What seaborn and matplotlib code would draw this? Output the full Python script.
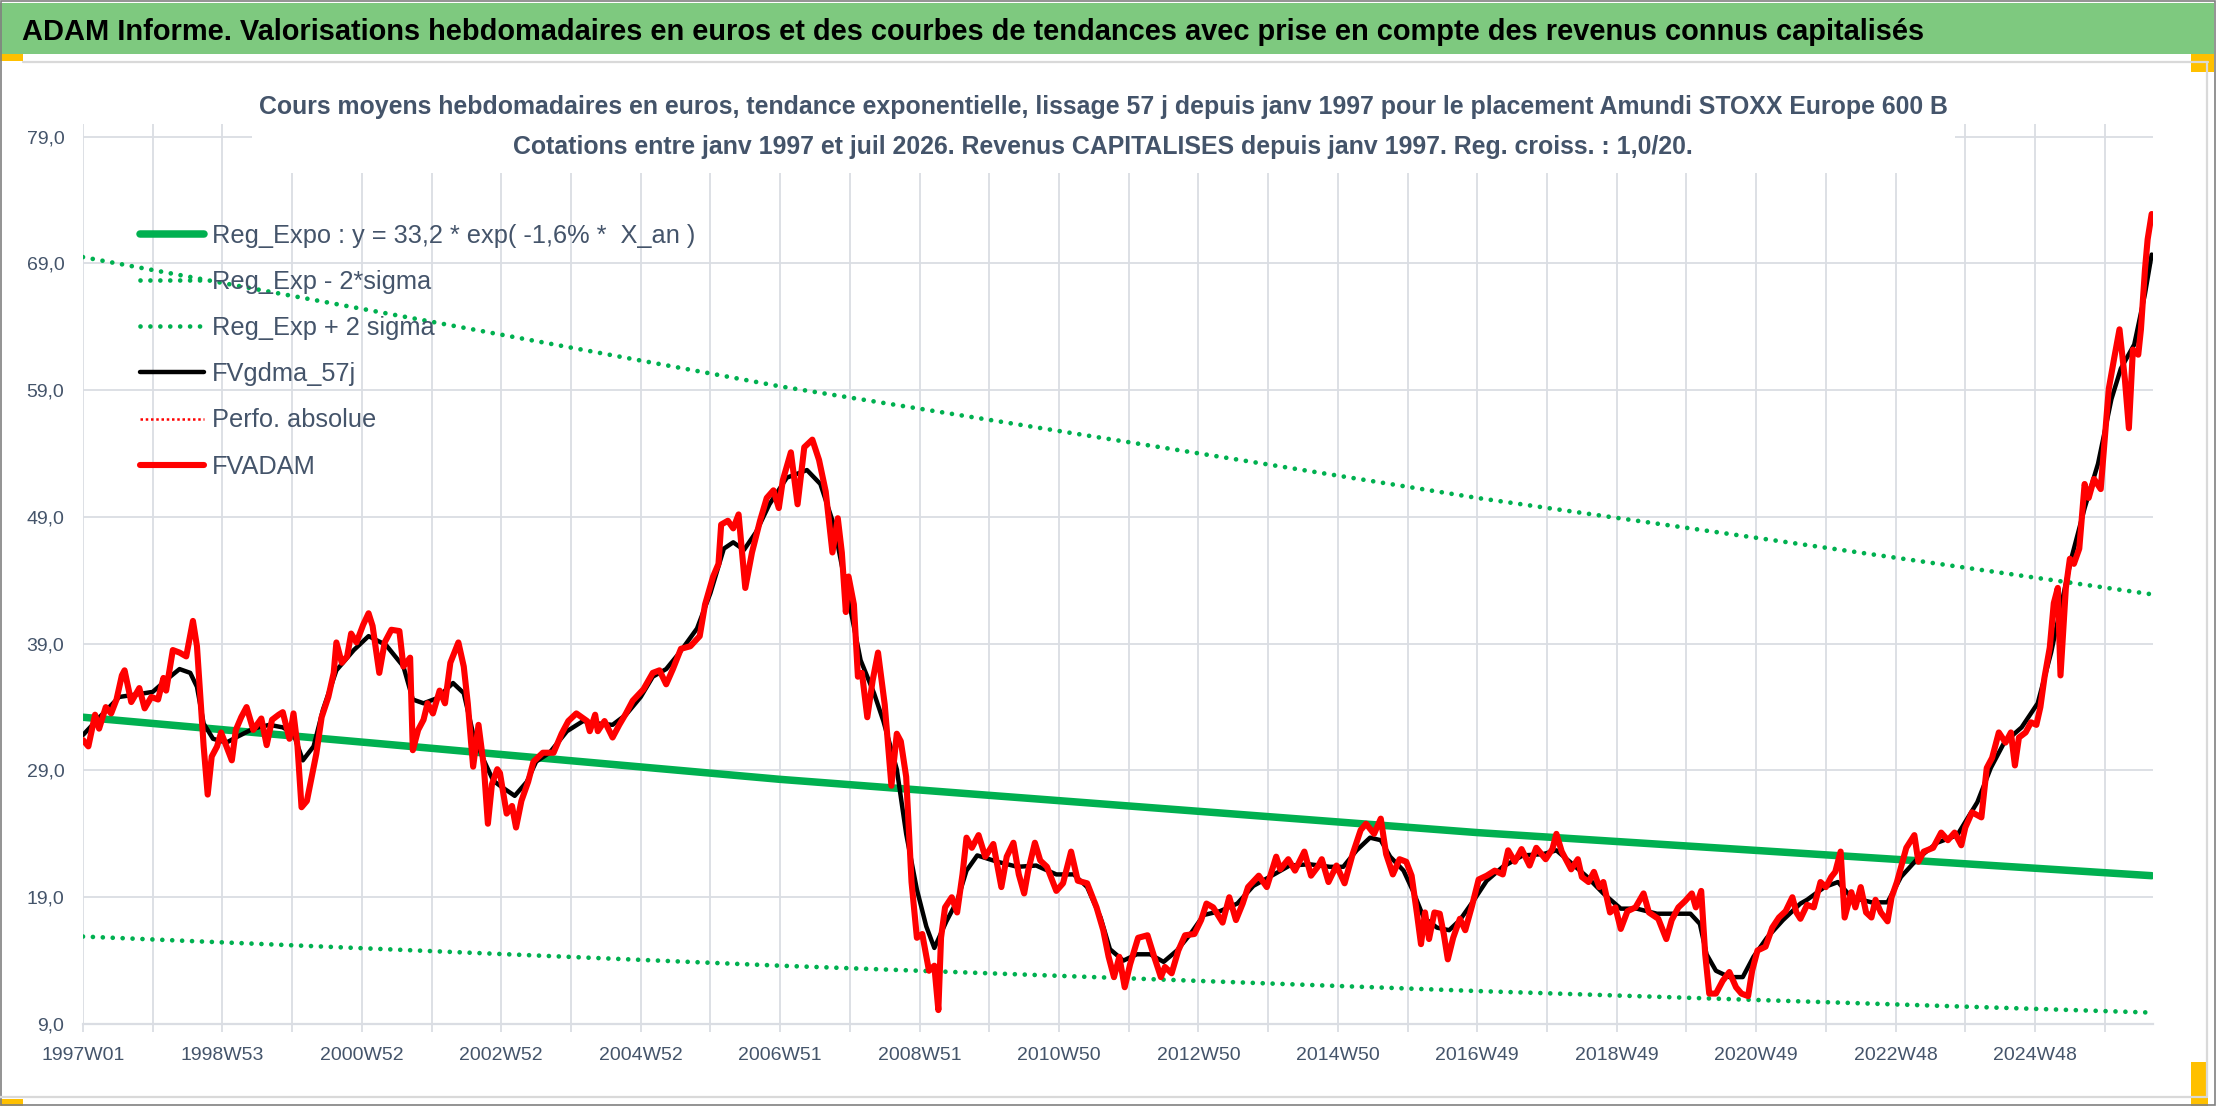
import matplotlib
matplotlib.use("Agg")
import matplotlib.pyplot as plt
import numpy as np
import seaborn as sns
from matplotlib.patches import Rectangle

W, H = 2216, 1106

# axis categories: weeks counted from 1997W01
xtick_labels = ["1997W01", "1998W53", "2000W52", "2002W52", "2004W52", "2006W51", "2008W51",
                "2010W50", "2012W50", "2014W50", "2016W49", "2018W49", "2020W49", "2022W48", "2024W48"]
yticks = [9, 19, 29, 39, 49, 59, 69, 79]

# regression curves (read at a few weeks)
reg_weeks = [0, 520, 1040, 1543]
reg_expo = [33.2, 28.3, 24.1, 20.7]
reg_minus = [15.9, 13.6, 11.6, 9.9]
reg_plus = [69.5, 59.3, 50.5, 42.9]

# FVgdma_57j (smoothed)
gdma_weeks = [0, 15, 27, 40, 52, 65, 72, 80, 85, 90, 97, 107, 114, 127, 139, 149, 157, 164, 172, 179,
              189, 202, 213, 226, 239, 246, 254, 264, 276, 284, 291, 299, 306, 311, 322, 331, 338, 348,
              361, 373, 385, 395, 405, 416, 425, 435, 445, 458, 468, 478, 485, 493, 502, 512, 525, 540,
              550, 560, 570, 580, 590, 597, 607, 614, 622, 629, 635, 644, 652, 659, 667, 682, 697, 711,
              726, 739, 749, 759, 766, 776, 786, 796, 806, 816, 826, 836, 848, 861, 873, 885, 900, 915,
              930, 940, 950, 960, 968, 975, 985, 992, 1000, 1010, 1019, 1027, 1037, 1047, 1059, 1074,
              1089, 1099, 1109, 1122, 1134, 1147, 1159, 1174, 1186, 1199, 1206, 1211, 1218, 1228, 1238,
              1246, 1256, 1268, 1281, 1286, 1299, 1309, 1319, 1334, 1346, 1356, 1368, 1383, 1398, 1413,
              1423, 1433, 1446, 1458, 1468, 1475, 1483, 1493, 1503, 1513, 1520, 1530, 1538, 1543]
gdma_values = [31.8, 33.5, 34.8, 35.0, 35.2, 36.4, 37.0, 36.7, 35.6, 32.7, 31.5, 31.2, 31.6, 32.3, 32.6,
               32.4, 31.9, 29.8, 30.9, 33.8, 36.9, 38.5, 39.6, 38.9, 37.2, 34.6, 34.3, 34.7, 35.9, 35.1,
               31.9, 29.8, 28.2, 27.8, 27.0, 28.1, 29.7, 30.4, 32.1, 32.9, 32.7, 32.6, 33.4, 34.8, 36.4,
               37.0, 38.3, 40.2, 43.0, 46.5, 47.0, 46.4, 47.8, 50.0, 52.1, 52.7, 51.6, 48.4, 43.0, 37.7,
               35.1, 32.9, 29.1, 24.0, 19.6, 16.7, 15.0, 17.1, 18.7, 21.1, 22.3, 21.8, 21.4, 21.5, 20.8,
               20.8, 19.8, 17.4, 14.9, 14.0, 14.5, 14.5, 13.9, 14.8, 16.1, 17.6, 17.9, 18.5, 19.9, 20.6,
               21.5, 21.6, 21.4, 21.4, 22.7, 23.7, 23.5, 22.2, 21.1, 19.5, 17.4, 16.6, 16.4, 17.2, 18.7,
               20.3, 21.4, 22.3, 22.4, 22.7, 21.8, 20.6, 19.3, 18.1, 18.1, 17.7, 17.7, 17.7, 16.9, 14.5,
               13.2, 12.7, 12.7, 14.3, 15.8, 17.2, 18.5, 18.8, 19.8, 20.2, 19.0, 18.6, 18.6, 20.6, 22.0,
               23.3, 23.9, 26.5, 29.2, 31.2, 32.4, 34.3, 38.3, 41.8, 45.7, 49.7, 53.2, 58.3, 60.7, 62.6,
               66.6, 69.7]

# Perfo. absolue: no visible points on the chart
perfo_weeks = []
perfo_values = []

# FVADAM weekly values
adam_weeks = [0, 4, 9, 12, 17, 21, 25, 29, 31, 36, 42, 46, 51, 56, 60, 62, 67, 72, 77, 82, 85, 88, 90,
              93, 96, 100, 103, 107, 111, 114, 118, 122, 127, 133, 137, 141, 146, 149, 154, 157, 160,
              163, 167, 170, 174, 178, 183, 187, 189, 193, 197, 200, 204, 209, 213, 216, 221, 225, 230,
              236, 239, 244, 246, 250, 254, 257, 261, 266, 270, 274, 280, 284, 287, 291, 295, 299, 302,
              305, 309, 311, 316, 320, 323, 327, 332, 336, 343, 351, 357, 362, 368, 376, 378, 382, 384,
              389, 395, 400, 405, 410, 418, 425, 430, 435, 440, 446, 453, 460, 464, 470, 474, 476, 481,
              485, 489, 494, 499, 505, 510, 515, 519, 522, 528, 533, 538, 544, 549, 554, 559, 563, 566,
              569, 571, 575, 578, 581, 585, 589, 593, 598, 603, 607, 610, 614, 618, 622, 626, 631, 635,
              638, 640, 643, 648, 652, 656, 659, 663, 668, 673, 679, 685, 689, 694, 698, 702, 705, 710,
              714, 719, 726, 731, 737, 742, 749, 756, 761, 765, 769, 773, 777, 781, 787, 794, 799, 804,
              807, 812, 817, 822, 829, 834, 838, 843, 850, 855, 860, 865, 869, 877, 883, 890, 893, 899,
              904, 911, 916, 921, 924, 929, 935, 941, 947, 953, 957, 963, 968, 972, 977, 982, 987, 991,
              995, 998, 1001, 1004, 1008, 1012, 1015, 1018, 1022, 1027, 1031, 1036, 1041, 1047, 1053,
              1059, 1063, 1068, 1073, 1079, 1084, 1091, 1096, 1099, 1103, 1110, 1115, 1118, 1123, 1127,
              1131, 1134, 1139, 1143, 1147, 1152, 1158, 1164, 1168, 1175, 1181, 1185, 1190, 1195, 1200,
              1203, 1207, 1210, 1213, 1218, 1223, 1228, 1233, 1237, 1242, 1245, 1249, 1255, 1260, 1265,
              1270, 1275, 1278, 1281, 1286, 1291, 1296, 1300, 1304, 1307, 1311, 1314, 1319, 1322, 1326,
              1330, 1334, 1337, 1341, 1346, 1349, 1353, 1360, 1366, 1369, 1373, 1380, 1386, 1391, 1396,
              1401, 1404, 1409, 1416, 1420, 1424, 1429, 1434, 1438, 1441, 1444, 1449, 1453, 1457, 1460,
              1463, 1467, 1470, 1473, 1475, 1479, 1482, 1485, 1489, 1493, 1496, 1500, 1505, 1508, 1511,
              1515, 1519, 1523, 1526, 1529, 1533, 1535, 1538, 1540, 1543]
adam_values = [31.4, 30.9, 33.4, 32.3, 34.0, 33.5, 34.6, 36.5, 36.9, 34.4, 35.5, 33.9, 34.8, 34.6, 36.3,
               35.3, 38.5, 38.3, 38.0, 40.8, 38.8, 34.0, 30.9, 27.1, 30.1, 30.9, 32.0, 30.9, 29.8, 32.2,
               33.2, 34.0, 32.2, 33.1, 31.0, 33.0, 33.4, 33.6, 31.5, 33.5, 30.9, 26.1, 26.6, 28.2, 30.3,
               33.2, 34.8, 36.7, 39.1, 37.5, 38.0, 39.8, 39.1, 40.5, 41.4, 40.4, 36.7, 39.1, 40.1, 40.0,
               37.2, 37.9, 30.6, 32.2, 33.0, 34.3, 33.5, 35.3, 34.3, 37.5, 39.1, 37.2, 34.3, 29.3, 32.6,
               29.3, 24.8, 27.9, 29.1, 28.8, 25.6, 26.2, 24.5, 26.6, 28.1, 29.7, 30.4, 30.4, 31.9, 32.9,
               33.5, 32.9, 32.1, 33.4, 32.1, 32.9, 31.6, 32.6, 33.5, 34.5, 35.4, 36.7, 36.9, 35.8, 37.0,
               38.6, 38.8, 39.6, 42.1, 44.3, 45.3, 48.4, 48.7, 48.1, 49.2, 43.4, 46.2, 48.7, 50.5, 51.1,
               49.7, 51.9, 54.1, 50.0, 54.5, 55.1, 53.5, 51.0, 46.2, 48.9, 46.2, 41.5, 44.3, 42.1, 36.4,
               36.7, 33.2, 36.1, 38.3, 34.2, 27.8, 31.9, 31.3, 28.5, 20.2, 15.8, 16.1, 13.2, 13.6, 10.1,
               15.8, 18.2, 19.0, 17.8, 20.8, 23.7, 22.9, 23.9, 22.2, 23.2, 19.8, 22.2, 23.3, 20.8, 19.3,
               21.1, 23.3, 21.9, 21.4, 19.5, 20.1, 22.6, 20.3, 20.1, 18.2, 16.4, 14.3, 12.7, 14.3, 11.9,
               13.7, 15.8, 16.0, 14.3, 12.7, 13.5, 13.0, 14.8, 16.0, 16.1, 17.2, 18.5, 18.2, 17.0, 19.0,
               17.2, 18.5, 19.8, 20.7, 19.8, 22.2, 21.2, 22.0, 21.1, 22.6, 20.7, 21.4, 22.0, 20.2, 21.5,
               20.1, 22.4, 24.3, 24.8, 24.0, 25.2, 22.4, 20.8, 22.0, 21.8, 20.7, 17.7, 15.3, 17.8, 15.7,
               17.8, 17.7, 16.1, 14.1, 15.8, 17.3, 16.4, 18.3, 20.4, 20.7, 21.1, 20.8, 22.7, 21.8, 22.8,
               21.5, 22.9, 22.0, 22.8, 24.0, 22.6, 21.2, 22.0, 20.6, 20.2, 21.0, 19.8, 20.2, 17.8, 18.2,
               16.5, 17.9, 18.2, 19.3, 17.8, 17.3, 15.7, 17.2, 18.2, 18.7, 19.3, 18.2, 19.5, 14.5, 11.4,
               11.4, 12.4, 13.1, 11.9, 11.4, 11.2, 13.2, 14.8, 15.1, 16.6, 17.4, 17.9, 19.0, 17.8, 17.3,
               18.4, 18.2, 20.2, 19.8, 20.6, 21.0, 22.6, 17.4, 19.4, 18.2, 19.8, 17.8, 17.4, 18.8, 17.8,
               17.1, 19.0, 20.2, 22.9, 23.9, 21.8, 22.6, 22.9, 24.1, 23.5, 24.1, 23.1, 24.5, 25.7, 25.3,
               29.2, 30.0, 32.0, 31.2, 32.0, 29.4, 31.6, 32.0, 32.8, 32.6, 34.0, 36.3, 38.7, 42.2, 43.4,
               36.5, 43.4, 45.7, 45.3, 46.5, 51.6, 50.5, 52.0, 51.2, 55.2, 59.1, 61.5, 63.8, 59.9, 56.0,
               62.2, 61.8, 63.8, 68.5, 70.9, 72.9]

TITLE = ("ADAM Informe. Valorisations hebdomadaires en euros et des courbes de tendances "
         "avec prise en compte des revenus connus capitalisés")
SUB1 = ("Cours moyens hebdomadaires en euros, tendance exponentielle, lissage 57 j depuis janv 1997 "
        "pour le placement Amundi STOXX Europe 600 B")
SUB2 = "Cotations entre janv 1997 et juil 2026. Revenus CAPITALISES depuis janv 1997. Reg. croiss. : 1,0/20."

GREEN = "#00B050"
GRID = "#DADDE3"
TXT = "#44546A"

sns.set_theme(style="white")
plt.rcParams["font.family"] = ["Liberation Sans", "DejaVu Sans"]

fig = plt.figure(figsize=(W / 100, H / 100), dpi=100)
fig.patch.set_facecolor("white")

ax = fig.add_axes([83 / W, 1 - 1024 / H, (2153 - 83) / W, (1024 - 124) / H])
ax.set_facecolor("white")

dots = (0, (0.001, 2.1))
sns.lineplot(x=reg_weeks, y=reg_expo, ax=ax, color=GREEN, lw=5.4, solid_capstyle="round",
             label="Reg_Expo : y = 33,2 * exp( -1,6% *  X_an )")
sns.lineplot(x=reg_weeks, y=reg_minus, ax=ax, color=GREEN, lw=3.4, linestyle=dots,
             dash_capstyle="round", label="Reg_Exp - 2*sigma")
sns.lineplot(x=reg_weeks, y=reg_plus, ax=ax, color=GREEN, lw=3.4, linestyle=dots,
             dash_capstyle="round", label="Reg_Exp + 2 sigma")
sns.lineplot(x=gdma_weeks, y=gdma_values, ax=ax, color="black", lw=3.2, sort=False,
             solid_capstyle="round", solid_joinstyle="round", label="FVgdma_57j")
ax.plot(perfo_weeks, perfo_values, color="red", lw=1.8, linestyle=(0, (1, 1.1)), label="Perfo. absolue")
sns.lineplot(x=adam_weeks, y=adam_values, ax=ax, color="red", lw=4.4, sort=False,
             solid_capstyle="round", solid_joinstyle="round", label="FVADAM")

ax.set_xlim(0, 1544)
ax.set_ylim(9, 80)
ax.set_xticks(np.arange(0, 104 * len(xtick_labels), 104))
ax.set_xticklabels(xtick_labels)
ax.set_xticks(np.arange(52, 1544, 104), minor=True)
ax.set_yticks(yticks)
ax.set_yticklabels([f"{v:.1f}".replace(".", ",") for v in yticks])
ax.set_xlabel("")
ax.set_ylabel("")

ax.grid(True, which="both", axis="x", color=GRID, lw=1.3)
ax.grid(True, which="major", axis="y", color=GRID, lw=1.3)
ax.set_axisbelow(True)
for side in ["top", "right", "left"]:
    ax.spines[side].set_visible(False)
ax.spines["bottom"].set_color(GRID)
ax.spines["bottom"].set_linewidth(1.6)

ax.tick_params(axis="x", which="both", direction="out", length=5.8, width=1.3, color=GRID,
               labelsize=14, labelcolor=TXT, pad=10.5, bottom=True)
ax.tick_params(axis="y", length=0, labelsize=14, labelcolor=TXT, pad=13.5)

leg = ax.legend(loc="upper left", bbox_to_anchor=(140 / W, 1 - 224 / H), bbox_transform=fig.transFigure,
                frameon=False, fontsize=18.3, labelspacing=0.87, handlelength=2.5, handletextpad=0.32,
                borderpad=0, borderaxespad=0)
for t in leg.get_texts():
    t.set_color(TXT)

# overlay in pixel units for the sheet frame, the banner and the chart title box
ov = fig.add_axes([0, 0, 1, 1], zorder=5)
ov.set_xlim(0, W)
ov.set_ylim(H, 0)
ov.axis("off")
ov.patch.set_alpha(0)

ov.add_patch(Rectangle((0, 3), 2214, 51, color="#7EC97F", lw=0))
ov.plot([23, 2208], [62, 62], color="#D9D9D9", lw=1.6)
ov.plot([2207, 2207], [62, 1097], color="#D9D9D9", lw=1.6)
ov.plot([0, 2207], [1097, 1097], color="#D9D9D9", lw=1.6)
ov.add_patch(Rectangle((0, 54), 23, 7, color="#FFC000", lw=0))
ov.add_patch(Rectangle((2191, 54), 23, 18, color="#FFC000", lw=0))
ov.add_patch(Rectangle((2191, 1062), 17, 44, color="#FFC000", lw=0))
ov.add_patch(Rectangle((0, 1099), 23, 7, color="#FFC000", lw=0))
ov.add_patch(Rectangle((0.5, 0.5), 2214, 1104.5, fill=False, ec="#808080", lw=1.2))

ov.add_patch(Rectangle((252, 66), 1703, 107, color="white", lw=0))
ov.text(22, 40, TITLE, fontsize=20.9, fontweight="bold", color="black", ha="left", va="baseline")
ov.text(1103, 114, SUB1, fontsize=17.9, fontweight="bold", color=TXT, ha="center", va="baseline")
ov.text(1103, 154, SUB2, fontsize=17.9, fontweight="bold", color=TXT, ha="center", va="baseline")

fig.savefig("out.png", dpi=100, facecolor="white")
